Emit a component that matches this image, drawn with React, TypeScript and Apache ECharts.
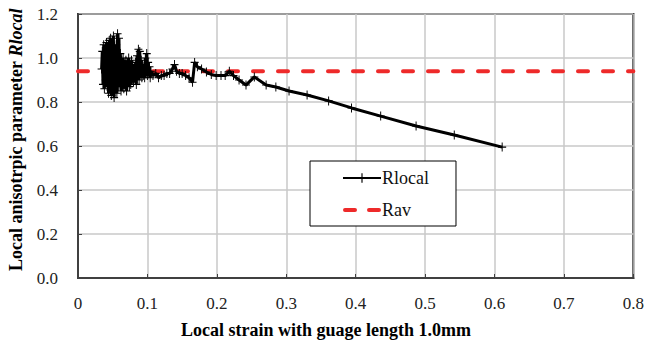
import React, { useEffect, useRef } from "react";
import * as echarts from "echarts";

const rlocalX = [
  0.034, 0.035, 0.036, 0.037, 0.038, 0.039, 0.040, 0.041, 0.042, 0.043,
  0.044, 0.045, 0.046, 0.047, 0.048, 0.049, 0.050, 0.051, 0.052, 0.053,
  0.054, 0.055, 0.056, 0.057, 0.058, 0.059, 0.060, 0.061, 0.062, 0.063,
  0.064, 0.065, 0.066, 0.067, 0.068, 0.069, 0.070, 0.071, 0.072, 0.073,
  0.074, 0.075, 0.076, 0.077, 0.078, 0.079, 0.080, 0.081, 0.082, 0.083,
  0.084, 0.085, 0.086, 0.087, 0.088, 0.089, 0.090, 0.091, 0.092, 0.093,
  0.094, 0.095, 0.096, 0.097, 0.098, 0.099, 0.100, 0.101, 0.102, 0.103,
  0.104, 0.105,
  0.108, 0.112, 0.116, 0.120, 0.124, 0.128, 0.132, 0.136, 0.139, 0.142,
  0.146, 0.150, 0.155, 0.160, 0.165, 0.168, 0.172, 0.178, 0.185, 0.192,
  0.199, 0.206, 0.212, 0.218, 0.224, 0.232, 0.242, 0.254,
  0.271, 0.285, 0.304, 0.330, 0.361, 0.394, 0.436, 0.487, 0.542, 0.611,
];
const rlocalY = [
  0.95, 1.03, 0.88, 1.06, 0.86, 1.02, 0.90, 1.07, 0.87, 1.04,
  0.84, 1.08, 0.89, 1.09, 0.83, 1.05, 0.86, 1.10, 0.82, 1.04,
  0.88, 1.06, 0.84, 1.11, 0.87, 1.09, 0.90, 1.02, 0.85, 0.99,
  0.87, 1.00, 0.86, 0.97, 0.88, 0.99, 0.85, 0.98, 0.89, 1.00,
  0.87, 0.96, 0.88, 0.99, 0.90, 0.97, 0.89, 0.95, 0.91, 0.98,
  0.88, 1.01, 0.92, 1.04, 0.90, 1.03, 0.93, 0.99, 0.91, 0.97,
  0.92, 0.96, 0.91, 1.00, 0.93, 1.02, 0.92, 0.98, 0.93, 0.96,
  0.91, 0.94,
  0.92, 0.93, 0.91, 0.92, 0.92, 0.93, 0.93, 0.95, 0.97, 0.94,
  0.93, 0.93, 0.92, 0.91, 0.89, 0.98, 0.96, 0.95, 0.936, 0.925,
  0.92, 0.92, 0.92, 0.94, 0.92, 0.90, 0.877, 0.914,
  0.877, 0.868, 0.850, 0.832, 0.805, 0.773, 0.736, 0.691, 0.650, 0.595,
];
const ravX = [0, 0.8];
const ravY = [0.94, 0.94];
const seriesNames = ["Rlocal", "Rav"];
const yTicks = [0, 0.2, 0.4, 0.6, 0.8, 1.0, 1.2];
const xTicks = [0, 0.1, 0.2, 0.3, 0.4, 0.5, 0.6, 0.7, 0.8];

const FONT = "Liberation Serif";
const PLUS = "path://M-0.6,-5L0.6,-5L0.6,5L-0.6,5Z M-5,-0.6L5,-0.6L5,0.6L-5,0.6Z";
const DASH_ICON =
  "path://M2,0h10a2,2 0 0 1 0,4h-10a2,2 0 0 1 0,-4Z M26,0h10a2,2 0 0 1 0,4h-10a2,2 0 0 1 0,-4Z";

export default function App() {
  const ref = useRef<HTMLDivElement>(null);
  useEffect(() => {
    if (!ref.current) return;
    const chart = echarts.init(ref.current, undefined, { renderer: "svg" });
    chart.setOption({
      animation: false,
      backgroundColor: "#fff",
      textStyle: { fontFamily: FONT },
      grid: {
        left: 78,
        right: 11,
        top: 14,
        bottom: 65,
        show: true,
        borderColor: "#1a1a1a",
        borderWidth: 2,
      },
      xAxis: {
        type: "value",
        min: xTicks[0],
        max: xTicks[xTicks.length - 1],
        interval: 0.1,
        axisLine: { show: true, onZero: false, lineStyle: { color: "#404040", width: 2 } },
        axisTick: { show: true, inside: true, length: 4, lineStyle: { color: "#404040" } },
        splitLine: { show: true, lineStyle: { color: "#c8c8c8", width: 1.5 } },
        axisLabel: {
          color: "#222",
          fontFamily: FONT,
          fontSize: 17,
          margin: 17,
          formatter: (v: number) => (v === 0 ? "0" : String(+v.toFixed(1))),
        },
      },
      yAxis: {
        type: "value",
        min: yTicks[0],
        max: yTicks[yTicks.length - 1],
        interval: 0.2,
        axisLine: { show: true, onZero: false, lineStyle: { color: "#404040", width: 2 } },
        axisTick: { show: true, inside: true, length: 4, lineStyle: { color: "#404040" } },
        splitLine: { show: true, lineStyle: { color: "#c8c8c8", width: 1.5 } },
        axisLabel: {
          color: "#222",
          fontFamily: FONT,
          fontSize: 17,
          margin: 20,
          formatter: (v: number) => v.toFixed(1),
        },
      },
      legend: {
        show: true,
        orient: "vertical",
        left: 310,
        top: 161,
        backgroundColor: "#fff",
        borderColor: "#000",
        borderWidth: 1,
        borderRadius: 0,
        padding: [8, 27, 7, 32],
        itemGap: 14,
        itemWidth: 38,
        itemHeight: 12,
        symbolKeepAspect: true,
        textStyle: { color: "#111", fontFamily: FONT, fontSize: 18, padding: [0, 0, 0, -4] },
        data: [{ name: seriesNames[0] }, { name: seriesNames[1], icon: DASH_ICON }],
      },
      graphic: [
        {
          type: "text",
          left: 181,
          top: 321,
          style: {
            text: "Local strain with guage length 1.0mm",
            fontFamily: FONT,
            fontSize: 18,
            fontWeight: "bold",
            fill: "#000",
          },
        },
        {
          type: "text",
          x: 7,
          y: 271,
          rotation: Math.PI / 2,
          style: {
            text: "{a|Local anisotrpic parameter }{b|Rlocal}",
            fill: "#000",
            rich: {
              a: { fontFamily: FONT, fontSize: 18, fontWeight: "bold", fill: "#000" },
              b: { fontFamily: FONT, fontSize: 18, fontWeight: "bold", fontStyle: "italic", fill: "#000" },
            },
          },
        },
      ],
      series: [
        {
          name: seriesNames[1],
          type: "line",
          data: ravX.map((x, i) => [x, ravY[i]]),
          showSymbol: false,
          symbol: "none",
          z: 2,
          lineStyle: { color: "#ee2a2a", width: 4, type: [10, 15], cap: "round" },
          itemStyle: { color: "#ee2a2a" },
        },
        {
          name: seriesNames[0],
          type: "line",
          data: rlocalX.map((x, i) => [x, rlocalY[i]]),
          symbol: PLUS,
          symbolSize: [8, 9],
          showAllSymbol: true,
          z: 3,
          lineStyle: { color: "#000", width: 3 },
          itemStyle: { color: "#000" },
        },
      ],
    });
    return () => chart.dispose();
  }, []);
  return (
    <div
      ref={ref}
      style={{ position: "absolute", left: 0, top: 0, width: 647, height: 343 }}
    />
  );
}
